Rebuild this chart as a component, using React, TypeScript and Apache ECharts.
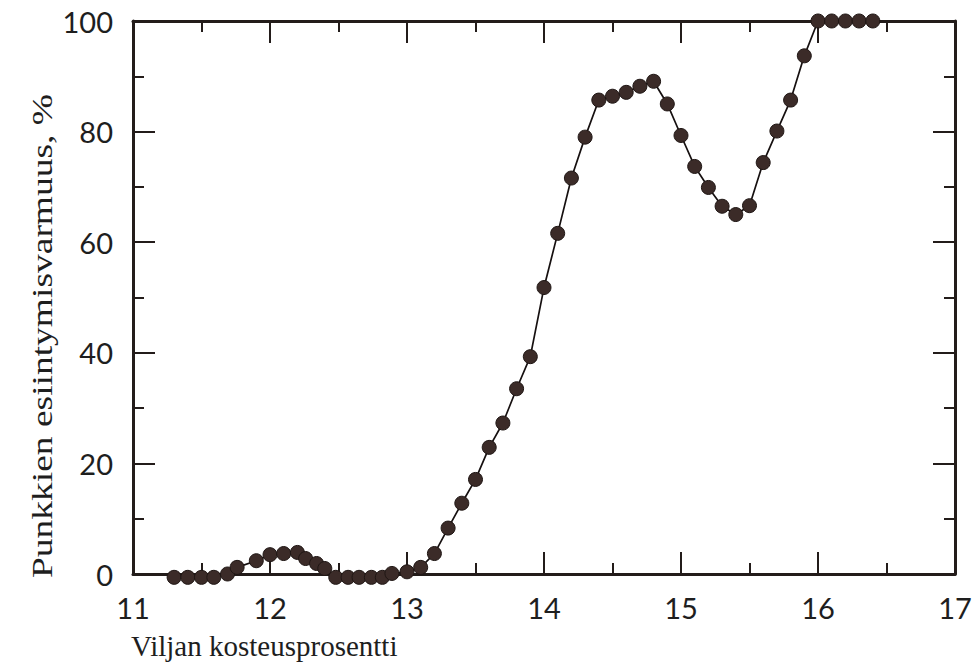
import React, { useEffect, useRef } from "react";
import * as echarts from "echarts";

const moisture = [
  11.3, 11.4, 11.5, 11.59, 11.69, 11.76, 11.9, 12.0, 12.1, 12.2, 12.26, 12.34, 12.4,
  12.48, 12.57, 12.65, 12.74, 12.82, 12.89, 13.0, 13.1, 13.2, 13.3, 13.4, 13.5, 13.6,
  13.7, 13.8, 13.9, 14.0, 14.1, 14.2, 14.3, 14.4, 14.5, 14.6, 14.7, 14.8, 14.9, 15.0,
  15.1, 15.2, 15.3, 15.4, 15.5, 15.6, 15.7, 15.8, 15.9, 16.0, 16.1, 16.2, 16.3, 16.4,
];
const occurrence = [
  -0.6, -0.6, -0.6, -0.6, 0, 1.2, 2.4, 3.5, 3.7, 3.9, 2.8, 1.9, 1.0,
  -0.6, -0.6, -0.6, -0.6, -0.6, 0.1, 0.4, 1.2, 3.7, 8.3, 12.8, 17.1, 22.9,
  27.3, 33.5, 39.3, 51.8, 61.6, 71.6, 79.0, 85.7, 86.4, 87.1, 88.2, 89.1, 85.0, 79.3,
  73.7, 69.9, 66.5, 65.0, 66.6, 74.4, 80.1, 85.7, 93.7, 100, 100, 100, 100, 100,
];
const xTickLabels = ["11", "12", "13", "14", "15", "16", "17"];
const yTickLabels = ["0", "20", "40", "60", "80", "100"];
const xTitle = "Viljan kosteusprosentti";
const yTitle = "Punkkien esiintymisvarmuus, %";

const INK = "#231c1a";

export default function App() {
  const ref = useRef<HTMLDivElement>(null);
  useEffect(() => {
    if (!ref.current) return;
    const chart = echarts.init(ref.current, undefined, { renderer: "svg" });
    const axisLine = { show: true, onZero: false, lineStyle: { color: INK, width: 3 } };
    const tick = { show: true, inside: true, length: 22, lineStyle: { color: INK, width: 2 } };
    const minor = { show: true, splitNumber: 2, length: 11, lineStyle: { color: INK, width: 2 } };
    const labelFont = { fontFamily: "Lato", fontSize: 29, color: "#1e1e1e" };
    const xBase = {
      type: "value" as const,
      min: 11,
      max: 17,
      interval: 1,
      axisLine,
      axisTick: tick,
      minorTick: minor,
      splitLine: { show: false },
    };
    const yBase = {
      type: "value" as const,
      min: 0,
      max: 100,
      interval: 20,
      axisLine,
      axisTick: tick,
      minorTick: minor,
      splitLine: { show: false },
    };
    chart.setOption({
      animation: false,
      backgroundColor: "#ffffff",
      grid: { left: 133, right: 24, top: 21, bottom: 94, containLabel: false },
      xAxis: [
        {
          ...xBase,
          position: "bottom",
          axisLabel: {
            ...labelFont,
            margin: 19,
            formatter: (v: number) => {
              const i = xTickLabels.indexOf(String(v));
              return i >= 0 ? xTickLabels[i] : "";
            },
          },
        },
        { ...xBase, position: "top", axisLabel: { show: false } },
      ],
      yAxis: [
        {
          ...yBase,
          position: "left",
          axisLabel: {
            ...labelFont,
            margin: 20,
            formatter: (v: number) => {
              const i = yTickLabels.indexOf(String(v));
              return i >= 0 ? yTickLabels[i] : "";
            },
          },
        },
        { ...yBase, position: "right", axisLabel: { show: false } },
      ],
      graphic: [
        {
          type: "text",
          left: 131,
          top: 631,
          style: {
            text: xTitle,
            fontFamily: "Liberation Serif",
            fontSize: 29,
            fill: "#1e1e1e",
          },
        },
        {
          type: "text",
          x: 42,
          y: 336,
          rotation: Math.PI / 2,
          scaleX: 1.25,
          style: {
            text: yTitle,
            fontFamily: "Liberation Serif",
            fontSize: 30,
            fill: "#1e1e1e",
            align: "center",
            verticalAlign: "middle",
          },
        },
      ],
      series: [
        {
          type: "line",
          xAxisIndex: 0,
          yAxisIndex: 0,
          clip: false,
          data: moisture.map((m, i) => [m, occurrence[i]]),
          symbol: "circle",
          symbolSize: 14,
          itemStyle: { color: "#3b2b28", borderColor: "#1f1614", borderWidth: 1 },
          lineStyle: { color: "#161010", width: 1.7 },
        },
      ],
    });
    return () => chart.dispose();
  }, []);
  return (
    <div
      ref={ref}
      style={{ position: "fixed", left: 0, top: 0, width: 979, height: 668, background: "#fff" }}
    />
  );
}
